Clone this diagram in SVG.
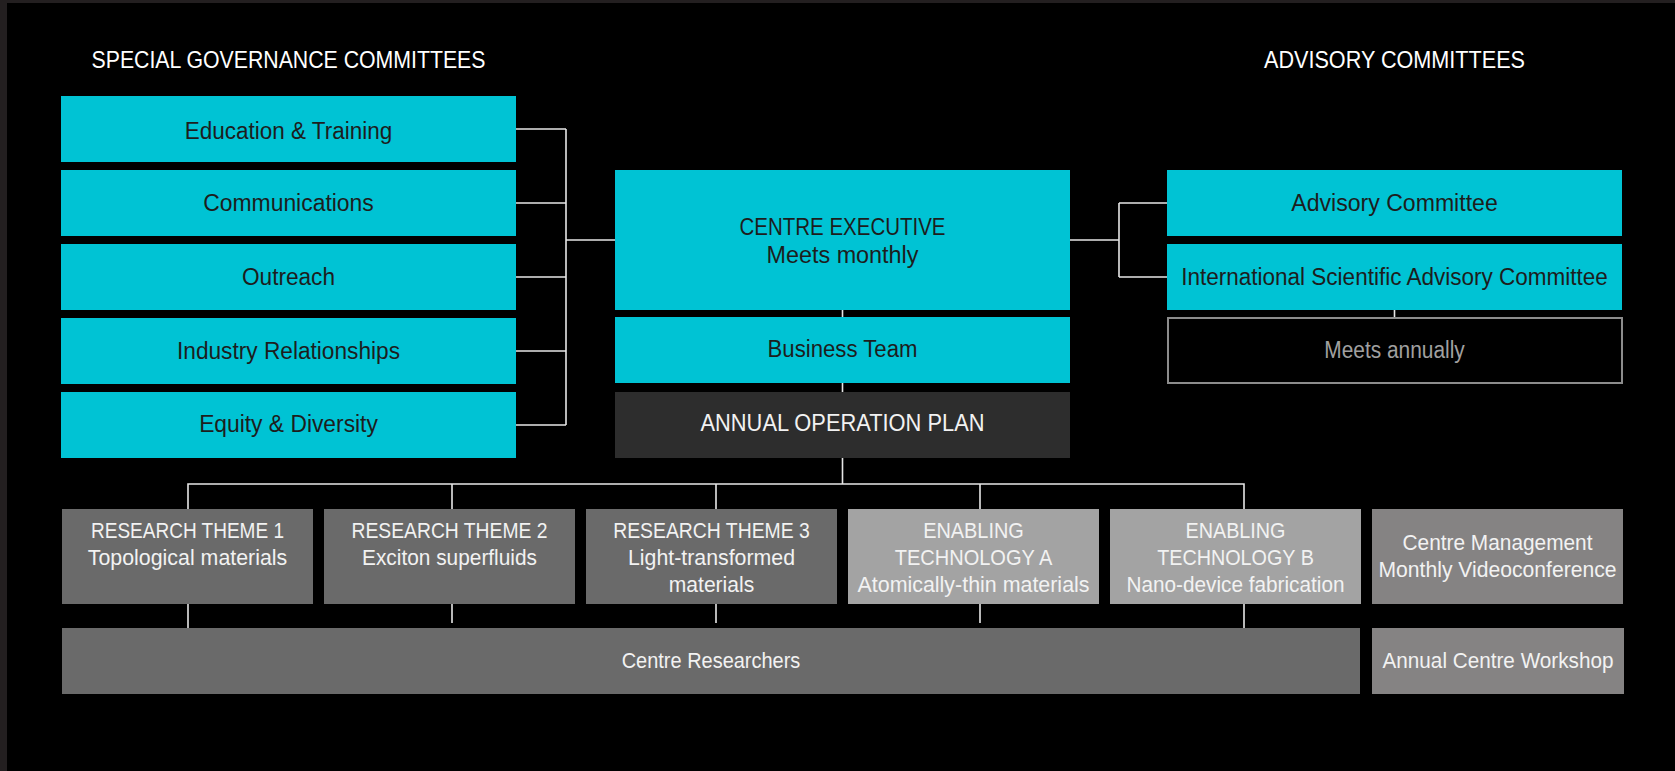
<svg xmlns="http://www.w3.org/2000/svg" width="1675" height="771" viewBox="0 0 1675 771">
<style>
text{font-family:"Liberation Sans",Arial,sans-serif;text-anchor:middle;lengthAdjust:spacingAndGlyphs}
.t{font-size:23px;fill:#1d1d1d}
.h{font-size:24px;fill:#ffffff}
.w{font-size:22px;fill:#f2f2f2}
.g{font-size:23px;fill:#a0a0a0}
.cy{fill:#00c3d4}
.dk{fill:#2d2d2d}
.rt{fill:#6a6a6a}
.et{fill:#a3a3a3}
.cm{fill:#858383}
.ln{fill:none;stroke:#e6e6e6;stroke-width:1.6}
</style>
<rect x="0" y="0" width="1675" height="771" fill="#000"/>
<rect x="0" y="0" width="1675" height="3" fill="#231f20"/>
<rect x="0" y="0" width="7" height="771" fill="#231f20"/>

<g id="headers">
<text class="h" x="288.5" y="68" textLength="394" lengthAdjust="spacingAndGlyphs">SPECIAL GOVERNANCE COMMITTEES</text>
<text class="h" x="1394.5" y="68" textLength="261" lengthAdjust="spacingAndGlyphs">ADVISORY COMMITTEES</text>
</g>

<g id="connectors">
<path class="ln" d="M516 129H566M516 203H566M516 277H566M516 351H566M516 425H566M566 129V425M566 240H615"/>
<path class="ln" d="M1070 240H1119M1119 203V277M1119 203H1167M1119 277H1167"/>
<path class="ln" d="M842.5 310V317M842.5 383V392M842.5 458V484"/>
<path class="ln" d="M1394.5 310V317"/>
<path class="ln" d="M188 509V484H1244V509M452 484V509M716 484V509M980 484V509"/>
<path class="ln" d="M188 604V628M452 604V623M716 604V623M980 604V623M1244 604V628"/>
</g>

<g id="education"><rect class="cy" x="61" y="96" width="455" height="66"/><text class="t" x="288.5" y="138.5" textLength="207.5" lengthAdjust="spacingAndGlyphs">Education &amp; Training</text></g>
<g id="communications"><rect class="cy" x="61" y="170" width="455" height="66"/><text class="t" x="288.5" y="211" textLength="170.5" lengthAdjust="spacingAndGlyphs">Communications</text></g>
<g id="outreach"><rect class="cy" x="61" y="244" width="455" height="66"/><text class="t" x="288.5" y="285" textLength="93" lengthAdjust="spacingAndGlyphs">Outreach</text></g>
<g id="industry"><rect class="cy" x="61" y="318" width="455" height="66"/><text class="t" x="288.5" y="358.5" textLength="223" lengthAdjust="spacingAndGlyphs">Industry Relationships</text></g>
<g id="equity"><rect class="cy" x="61" y="392" width="455" height="66"/><text class="t" x="288.5" y="432" textLength="178.7" lengthAdjust="spacingAndGlyphs">Equity &amp; Diversity</text></g>

<g id="centre-executive"><rect class="cy" x="615" y="170" width="455" height="140"/>
<text class="t" x="842.5" y="235" textLength="206" lengthAdjust="spacingAndGlyphs">CENTRE EXECUTIVE</text>
<text class="t" x="842.5" y="262.7" textLength="152" lengthAdjust="spacingAndGlyphs">Meets monthly</text></g>
<g id="business-team"><rect class="cy" x="615" y="317" width="455" height="66"/><text class="t" x="842.5" y="356.7" textLength="150" lengthAdjust="spacingAndGlyphs">Business Team</text></g>
<g id="annual-plan"><rect class="dk" x="615" y="392" width="455" height="66"/><text class="t" style="fill:#f2f2f2" x="842.5" y="430.7" textLength="284" lengthAdjust="spacingAndGlyphs">ANNUAL OPERATION PLAN</text></g>

<g id="advisory-committee"><rect class="cy" x="1167" y="170" width="455" height="66"/><text class="t" x="1394.5" y="211" textLength="206.5" lengthAdjust="spacingAndGlyphs">Advisory Committee</text></g>
<g id="isac"><rect class="cy" x="1167" y="244" width="455" height="66"/><text class="t" x="1394.5" y="285" textLength="426.5" lengthAdjust="spacingAndGlyphs">International Scientific Advisory Committee</text></g>
<g id="meets-annually"><rect x="1168" y="318" width="454" height="65" fill="none" stroke="#8c8c8c" stroke-width="2"/><text class="g" x="1394.5" y="358.3" textLength="140.5" lengthAdjust="spacingAndGlyphs">Meets annually</text></g>

<g id="theme1"><rect class="rt" x="62" y="509" width="251" height="95"/>
<text class="w" x="187.5" y="537.7" textLength="193" lengthAdjust="spacingAndGlyphs">RESEARCH THEME 1</text>
<text class="w" x="187.5" y="565" textLength="199.5" lengthAdjust="spacingAndGlyphs">Topological materials</text></g>
<g id="theme2"><rect class="rt" x="324" y="509" width="251" height="95"/>
<text class="w" x="449.5" y="537.7" textLength="196" lengthAdjust="spacingAndGlyphs">RESEARCH THEME 2</text>
<text class="w" x="449.5" y="565" textLength="175" lengthAdjust="spacingAndGlyphs">Exciton superfluids</text></g>
<g id="theme3"><rect class="rt" x="586" y="509" width="251" height="95"/>
<text class="w" x="711.5" y="537.7" textLength="196.7" lengthAdjust="spacingAndGlyphs">RESEARCH THEME 3</text>
<text class="w" x="711.5" y="565" textLength="167" lengthAdjust="spacingAndGlyphs">Light-transformed</text>
<text class="w" x="711.5" y="591.7" textLength="85.5" lengthAdjust="spacingAndGlyphs">materials</text></g>
<g id="tech-a"><rect class="et" x="848" y="509" width="251" height="95"/>
<text class="w" x="973.5" y="537.7" textLength="100.7" lengthAdjust="spacingAndGlyphs">ENABLING</text>
<text class="w" x="973.5" y="565" textLength="157.6" lengthAdjust="spacingAndGlyphs">TECHNOLOGY A</text>
<text class="w" x="973.5" y="591.7" textLength="232" lengthAdjust="spacingAndGlyphs">Atomically-thin materials</text></g>
<g id="tech-b"><rect class="et" x="1110" y="509" width="251" height="95"/>
<text class="w" x="1235.5" y="537.7" textLength="100" lengthAdjust="spacingAndGlyphs">ENABLING</text>
<text class="w" x="1235.5" y="565" textLength="156.7" lengthAdjust="spacingAndGlyphs">TECHNOLOGY B</text>
<text class="w" x="1235.5" y="591.7" textLength="218" lengthAdjust="spacingAndGlyphs">Nano-device fabrication</text></g>
<g id="centre-management"><rect class="cm" x="1372" y="509" width="251" height="95"/>
<text class="w" x="1497.5" y="550" textLength="190" lengthAdjust="spacingAndGlyphs">Centre Management</text>
<text class="w" x="1497.5" y="577.3" textLength="238" lengthAdjust="spacingAndGlyphs">Monthly Videoconference</text></g>

<g id="centre-researchers"><rect class="rt" x="62" y="628" width="1298" height="66"/>
<text class="w" x="711" y="668.3" textLength="178.7" lengthAdjust="spacingAndGlyphs">Centre Researchers</text></g>
<g id="annual-workshop"><rect class="cm" x="1372" y="628" width="252" height="66"/>
<text class="w" x="1498" y="668.3" textLength="231" lengthAdjust="spacingAndGlyphs">Annual Centre Workshop</text></g>
</svg>
